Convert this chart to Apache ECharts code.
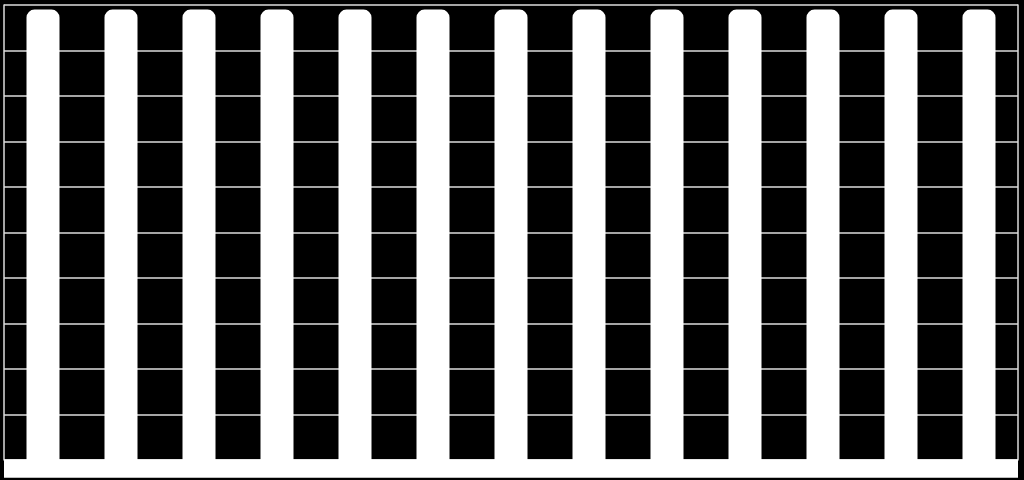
<!DOCTYPE html>
<html>
<head>
<meta charset="utf-8">
<script src="https://cdn.jsdelivr.net/npm/echarts@6/dist/echarts.min.js"></script>
<style>html,body{margin:0;padding:0;background:#000;}#c{width:1024px;height:480px;}</style>
</head>
<body>
<div id="c"></div>
<script>
var categories = ['1','2','3','4','5','6','7','8','9','10','11','12','13'];
var values = [99,99,99,99,99,99,99,99,99,99,99,99,99];
var yTicks = [0,10,20,30,40,50,60,70,80,90,100];

var chart = echarts.init(document.getElementById('c'));
chart.setOption({
  backgroundColor: '#000',
  animation: false,
  grid: {left: 4, right: 6, top: 5, bottom: 20, show: false, containLabel: false},
  xAxis: {
    type: 'category', data: categories, offset: 8, z: 5,
    axisLine: {show: true, onZero: false, lineStyle: {color: '#ffffff', width: 18.5, cap: 'butt'}},
    axisTick: {show: false}, axisLabel: {show: false}
  },
  yAxis: [{
    type: 'value', min: yTicks[0], max: yTicks[yTicks.length-1], interval: 10,
    axisLine: {show: true, lineStyle: {color: '#dddddd', width: 1.5}},
    axisTick: {show: false}, axisLabel: {show: false},
    splitLine: {show: true, lineStyle: {color: '#dddddd', width: 1.5}}
  }, {
    type: 'value', position: 'right', min: yTicks[0], max: yTicks[yTicks.length-1], interval: 10,
    axisLine: {show: true, lineStyle: {color: '#dddddd', width: 1.5}},
    axisTick: {show: false}, axisLabel: {show: false}, splitLine: {show: false}
  }],
  series: [{
    type: 'bar', data: values, barWidth: 33,
    itemStyle: {color: '#ffffff', borderRadius: [8,8,0,0]}
  }]
});
</script>
</body>
</html>
